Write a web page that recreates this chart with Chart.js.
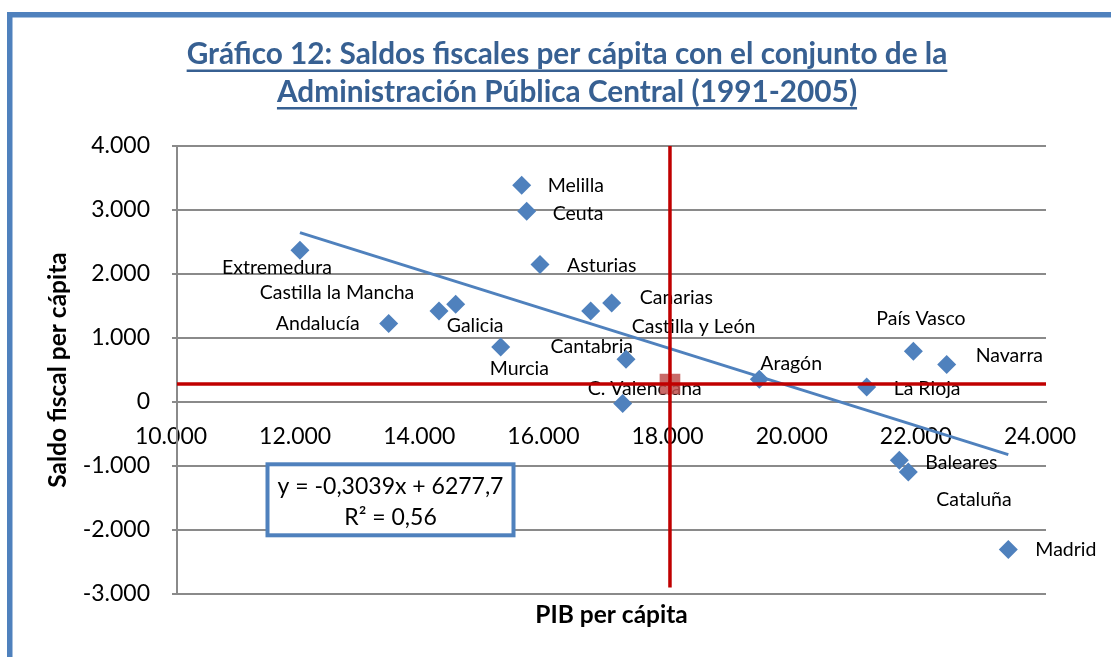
<!DOCTYPE html>
<html>
<head>
<meta charset="utf-8">
<script src="https://cdn.jsdelivr.net/npm/chart.js@4.4.1/dist/chart.umd.min.js"></script>
<style>
html,body{margin:0;padding:0;background:#fff;}
canvas{display:block;}
</style>
</head>
<body>
<canvas id="c" width="1111" height="657"></canvas>
<script>
// ---------------- data ----------------
const titleLines = ['Gráfico 12: Saldos fiscales per cápita con el conjunto de la',
                    'Administración Pública Central (1991-2005)'];
const xAxisTitle = 'PIB per cápita';
const yAxisTitle = 'Saldo fiscal per cápita';

const regions = ['Extremedura', 'Andalucía', 'Castilla la Mancha', 'Galicia', 'Murcia',
                 'Melilla', 'Ceuta', 'Asturias', 'Canarias', 'Castilla y León',
                 'Cantabria', 'C. Valenciana', 'Aragón', 'País Vasco', 'Navarra',
                 'La Rioja', 'Baleares', 'Cataluña', 'Madrid'];
const pibPerCapita = [11981, 13410, 14221, 14490, 15215,
                      15553, 15634, 15848, 17003, 16665,
                      17234, 17180, 19381, 21863, 22400,
                      21111, 21637, 21782, 23393];
const saldoPerCapita = [2370, 1225, 1422, 1527, 859,
                        3386, 2980, 2147, 1547, 1422,
                        667, -25, 355, 792, 584,
                        234, -911, -1094, -2306];

const xTickMin = 10000, xTickMax = 24000, xTickStep = 2000;
const yTickMin = -3000, yTickMax = 4000, yTickStep = 1000;

// linear trend (as drawn) and the equation box text
const trendX = [11981, 23393];
const trendY = [2647, -822];
const trendEquation = 'y = -0,3039x + 6277,7';
const trendR2 = 'R² = 0,56';

// mean point with its cross lines
const meanPoint = [17942, 280];
const meanLineX = [10000, 24000];
const meanLineY = [4000, -2900];

// label placement for each region: [align, dx, dy] (pixels from the marker)
const labelPlacement = [
  ['center', -23, 17], ['right', -29, 0], ['center', -102, -18], ['left', -9, 21], ['left', -11, 22],
  ['left', 26, 0], ['left', 26, 2], ['left', 27, 1], ['left', 28, -5], ['left', 41, 16],
  ['right', 7, -13], ['left', -35, -15], ['left', 1, -16], ['left', -37, -33], ['left', 29, -9],
  ['left', 27, 2], ['left', 26, 2], ['left', 28, 28], ['left', 27, 0]
];

// ---------------- style ----------------
const FAMILY = "Lato, 'Open Sans', sans-serif";
const BLUE = '#4F81BD';
const RED = '#C00000';
const GRID = '#8a8a8a';

function fmt(v) {
  const s = Math.abs(Math.round(v)).toString().replace(/\B(?=(\d{3})+(?!\d))/g, '.');
  return (v < 0 ? '-' : '') + s;
}

const framePlugin = {
  id: 'frame',
  beforeDraw(chart) {
    const ctx = chart.ctx;
    ctx.save();
    ctx.fillStyle = '#fff';
    ctx.fillRect(0, 0, chart.width, chart.height);
    ctx.strokeStyle = BLUE;
    ctx.lineWidth = 5.5;
    ctx.strokeRect(9.75, 14.75, 1200, 800);
    ctx.restore();
  }
};

const titlePlugin = {
  id: 'uTitle',
  afterDraw(chart) {
    const ctx = chart.ctx;
    ctx.save();
    ctx.font = `bold 25px ${FAMILY}`;
    const w0 = ctx.measureText(titleLines[0]).width;
    const size = 25 * 761 / w0;
    ctx.font = `bold ${size}px ${FAMILY}`;
    ctx.fillStyle = '#376092';
    ctx.textAlign = 'center';
    ctx.textBaseline = 'alphabetic';
    const cx = 567;
    const baselines = [64, 101.5];
    titleLines.forEach((t, i) => {
      ctx.fillText(t, cx, baselines[i]);
      const w = ctx.measureText(t).width;
      ctx.fillRect(cx - w / 2, baselines[i] + 5.5, w, 2.5);
    });
    ctx.restore();
  }
};

const labelsPlugin = {
  id: 'pointLabels',
  beforeDatasetsDraw(chart) {
    const ctx = chart.ctx;
    const meta = chart.getDatasetMeta(3);
    ctx.save();
    ctx.font = `19.5px ${FAMILY}`;
    ctx.fillStyle = '#000';
    ctx.textBaseline = 'middle';
    meta.data.forEach((pt, i) => {
      const [align, dx, dy] = labelPlacement[i];
      ctx.textAlign = align;
      ctx.fillText(regions[i], pt.x + dx, pt.y + dy);
    });
    // x axis title
    const ca = chart.chartArea;
    ctx.font = `bold 24.5px ${FAMILY}`;
    ctx.textAlign = 'center';
    ctx.fillText(xAxisTitle, (ca.left + ca.right) / 2, 615);
    ctx.restore();
  }
};

const boxPlugin = {
  id: 'eqBox',
  afterDatasetsDraw(chart) {
    const ctx = chart.ctx;
    ctx.save();
    const x = 267.5, y = 464.3, w = 246, h = 71;
    ctx.fillStyle = '#fff';
    ctx.fillRect(x, y, w, h);
    ctx.strokeStyle = BLUE;
    ctx.lineWidth = 4;
    ctx.strokeRect(x, y, w, h);
    ctx.fillStyle = '#000';
    ctx.font = `23px ${FAMILY}`;
    ctx.textAlign = 'center';
    ctx.textBaseline = 'middle';
    ctx.fillText(trendEquation, x + w / 2, 487);
    ctx.fillText(trendR2, x + w / 2, 518);
    ctx.restore();
  }
};

new Chart(document.getElementById('c'), {
  type: 'scatter',
  data: {
    datasets: [
      { label: 'Media (horizontal)', data: meanLineX.map(x => ({ x, y: meanPoint[1] })),
        showLine: true, borderColor: RED, borderWidth: 3.5, pointRadius: 0, order: 0 },
      { label: 'Media (vertical)', data: meanLineY.map(y => ({ x: meanPoint[0], y })),
        showLine: true, borderColor: RED, borderWidth: 3.5, pointRadius: 0, order: 0 },
      { label: 'Media', data: [{ x: meanPoint[0], y: meanPoint[1] }],
        pointStyle: 'rect', pointRadius: 14.6, backgroundColor: 'rgba(192,80,77,0.85)',
        borderWidth: 0, order: 1 },
      { label: 'CCAA', data: regions.map((r, i) => ({ x: pibPerCapita[i], y: saldoPerCapita[i] })),
        pointStyle: 'rectRot', pointRadius: 9.5, backgroundColor: BLUE, borderColor: BLUE,
        borderWidth: 0, order: 2 },
      { label: 'Lineal', data: trendX.map((x, i) => ({ x, y: trendY[i] })),
        showLine: true, borderColor: BLUE, borderWidth: 3, pointRadius: 0, order: 3 }
    ]
  },
  options: {
    responsive: false,
    animation: false,
    devicePixelRatio: 1,
    layout: { padding: { top: 146, right: 65, bottom: 63, left: 0 } },
    plugins: { legend: { display: false }, tooltip: { enabled: false }, title: { display: false } },
    scales: {
      x: {
        type: 'linear', position: { y: 0 }, min: xTickMin, max: xTickMax,
        ticks: { stepSize: xTickStep, callback: fmt, color: '#000', padding: 21, labelOffset: -6,
                 maxRotation: 0, autoSkip: false, font: { family: FAMILY, size: 23 } },
        grid: { display: false, drawTicks: false },
        border: { display: true, color: GRID, width: 2 }
      },
      y: {
        type: 'linear', position: 'left', min: yTickMin, max: yTickMax,
        ticks: { stepSize: yTickStep, callback: fmt, color: '#000', padding: 22,
                 font: { family: FAMILY, size: 23 } },
        grid: { color: GRID, lineWidth: 2, tickLength: 5, drawTicks: true },
        border: { color: GRID, width: 2 },
        title: { display: true, text: yAxisTitle, color: '#000',
                 font: { family: FAMILY, size: 24.5, weight: 'bold' }, padding: { top: 43, bottom: 0 } },
        afterFit(s) { s.width = 177; }
      }
    }
  },
  plugins: [framePlugin, titlePlugin, labelsPlugin, boxPlugin]
});
</script>
</body>
</html>
